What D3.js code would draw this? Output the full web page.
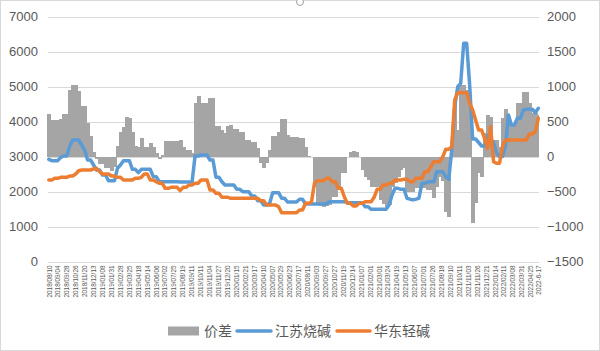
<!DOCTYPE html>
<html><head><meta charset="utf-8">
<script src="https://cdn.jsdelivr.net/npm/d3@7"></script>
<style>
html,body{margin:0;padding:0;background:#fff;}
svg{display:block;}
</style></head>
<body><svg id="c" width="600" height="351"></svg>
<script>
const tickLabels = ["2018/08/10","2018/09/04","2018/09/28","2018/10/26","2018/11/20","2018/12/13","2019/01/08","2019/01/31","2019/02/28","2019/03/25","2019/04/18","2019/05/14","2019/06/06","2019/07/02","2019/07/25","2019/08/19","2019/09/11","2019/10/11","2019/11/04","2019/11/27","2019/12/20","2020/01/15","2020/02/21","2020/03/17","2020/04/10","2020/05/07","2020/05/29","2020/06/23","2020/07/17","2020/08/11","2020/09/03","2020/09/27","2020/10/27","2020/11/19","2020/12/14","2021/01/07","2021/02/01","2021/03/01","2021/03/24","2021/04/19","2021/05/13","2021/06/07","2021/07/01","2021/07/26","2021/08/18","2021/09/10","2021/10/11","2021/11/03","2021/11/26","2021/12/21","2022/01/14","2022/02/11","2022/03/08","2022/03/31","2022/04/25","2022-6-17"];

// 价差 (right axis)
const spread = [
607,521,521,521,540,607,607,950,1021,1021,
940,721,721,474,293,60,-30,-100,-100,-170,
-170,-200,-150,150,355,426,560,545,355,150,
131,260,131,131,200,131,45,-40,20,221,
221,221,221,221,236,131,93,93,55,760,
864,760,760,760,831,831,436,436,380,340,
436,450,388,388,355,355,236,236,212,212,
117,-97,-160,-97,93,293,293,355,531,531,
307,283,283,283,260,260,140,7,0,-431,
-670,-700,-717,-700,-690,-574,-574,-431,-240,-240,
0,60,83,60,0,-190,-290,-336,-431,-431,
-431,-620,-680,-717,-690,-431,-380,-290,-190,-160,
-500,-500,-500,-450,-450,-450,-450,-479,-479,-593,
-431,-290,-350,-788,-860,140,800,379,1021,1021,
950,760,-945,-669,-240,-290,331,600,570,236,
236,140,545,680,569,430,430,769,769,926,
926,760,620,620,600];

// 江苏烧碱 (left axis)
const jiangsu = [
2920,2880,2880,2880,2977,3014,3014,3300,3471,3471,
3471,3329,3186,2900,2900,2757,2614,2614,2471,2471,
2309,2309,2309,2663,2757,2880,2880,2880,2634,2634,
2537,2634,2634,2634,2634,2423,2423,2280,2280,2280,
2280,2280,2280,2280,2271,2271,2271,2271,2271,3014,
3014,3043,3043,3043,2900,2900,2405,2405,2280,2186,
2186,2186,2186,2063,2063,1994,1994,1994,1871,1871,
1737,1737,1614,1614,1663,1966,1966,1966,1806,1806,
1700,1700,1700,1700,1777,1777,1643,1643,1643,1643,
1643,1643,1643,1643,1709,1709,1709,1709,1709,1709,
1680,1680,1680,1680,1680,1680,1566,1566,1491,1491,
1491,1491,1491,1491,1614,1900,2091,2091,2063,2063,
1806,1780,1760,1780,1806,2234,2234,2280,2280,2280,
2566,2566,2566,2423,2349,3186,4423,4994,5091,6234,
6234,5043,3500,3500,3400,3300,3300,3600,3500,3400,
3100,3000,3000,3300,4186,3900,3900,4091,4091,4329,
4350,4350,4350,4251,4377];

// 华东轻碱 (left axis)
const huadong = [
2329,2329,2377,2377,2406,2406,2406,2443,2443,2500,
2594,2614,2614,2614,2614,2643,2663,2566,2500,2500,
2500,2443,2443,2406,2406,2329,2329,2329,2329,2377,
2377,2406,2500,2500,2329,2329,2280,2234,2234,2091,
2091,2120,2120,2120,2023,2120,2120,2186,2186,2234,
2234,2329,2329,2329,2043,2043,1949,1949,1834,1834,
1834,1806,1806,1806,1806,1806,1806,1806,1806,1806,
1806,1737,1737,1614,1614,1614,1614,1566,1394,1394,
1394,1394,1394,1394,1471,1471,1663,1663,1700,2234,
2309,2309,2309,2377,2377,2280,2280,2091,2091,1851,
1663,1663,1586,1586,1663,1663,1709,1709,1709,1834,
2063,2063,2186,2186,2234,2234,2329,2329,2329,2350,
2350,2280,2280,2377,2377,2377,2566,2566,2709,2851,
2851,2851,2994,3206,3206,3280,4614,4823,4823,4823,
4823,4520,4329,4043,3757,3757,3520,3234,3851,2851,
2806,2806,3280,3471,3471,3471,3471,3471,3471,3471,
3471,3643,3643,3709,4091];

const leftTicks = [0,1000,2000,3000,4000,5000,6000,7000];
const rightTicks = [-1500,-1000,-500,0,500,1000,1500,2000];

const svg = d3.select("#c");
const W = 600, H = 351;
const plot = {left: 48, right: 539, top: 16.5, bottom: 261.5};
const N = jiangsu.length;
const x = d3.scaleLinear().domain([0, N - 1]).range([48.8, 538.3]);
const yL = d3.scaleLinear().domain([0, 7000]).range([plot.bottom, plot.top]);
const yR = d3.scaleLinear().domain([-1500, 2000]).range([plot.bottom, plot.top]);
const step = x(1) - x(0);
const labelPos = i => i < tickLabels.length - 1 ? i * 17 * (N - 1) / 933 : N - 1;

// frame
svg.append("rect").attr("x",0.5).attr("y",0.5).attr("width",W-1).attr("height",H-1)
  .attr("fill","#fff").attr("stroke","#d9d9d9");
svg.append("circle").attr("cx",300).attr("cy",2).attr("r",3.5).attr("fill","#fff").attr("stroke","#a0a0a0");

// gridlines
svg.append("g").selectAll("line").data(leftTicks).join("line")
  .attr("x1", plot.left).attr("x2", plot.right)
  .attr("y1", d => Math.round(yL(d)) + 0.5).attr("y2", d => Math.round(yL(d)) + 0.5)
  .attr("stroke", "#d9d9d9").attr("stroke-width", 1);

// bars
svg.append("g").attr("shape-rendering","crispEdges").selectAll("rect").data(spread).join("rect")
  .attr("x", (d,i) => x(i) - step/2)
  .attr("width", (d,i) => i === N - 1 ? step/2 + 0.7 : step + 1)
  .attr("y", d => Math.min(yR(d), yR(0)))
  .attr("height", d => Math.abs(yR(d) - yR(0)))
  .attr("fill", "#a5a5a5");

// lines
const lineL = d3.line().x((d,i) => x(i)).y(d => yL(d));
svg.append("path").datum(jiangsu).attr("d", lineL)
  .attr("fill","none").attr("stroke","#5b9bd5").attr("stroke-width",3.5)
  .attr("stroke-linejoin","round").attr("stroke-linecap","round");
svg.append("path").datum(huadong).attr("d", lineL)
  .attr("fill","none").attr("stroke","#ed7d31").attr("stroke-width",3.5)
  .attr("stroke-linejoin","round").attr("stroke-linecap","round");

// axes
const axisFont = "'Liberation Sans', Arial, sans-serif";
const fmt = d3.format("d");
const gL = svg.append("g").attr("transform", `translate(${plot.left - 10},0)`)
  .call(d3.axisLeft(yL).tickValues(leftTicks).tickFormat(fmt).tickSize(0).tickPadding(0));
gL.select(".domain").remove();
gL.selectAll("text").attr("font-family", axisFont).attr("font-size", 13).attr("fill", "#595959");

const gR = svg.append("g").attr("transform", `translate(${plot.right + 8},0)`)
  .call(d3.axisRight(yR).tickValues(rightTicks).tickFormat(fmt).tickSize(0).tickPadding(0));
gR.select(".domain").remove();
gR.selectAll("text").attr("font-family", axisFont).attr("font-size", 13).attr("fill", "#595959");

const gX = svg.append("g").attr("transform", `translate(0,${plot.bottom})`)
  .call(d3.axisBottom(x).tickValues(tickLabels.map((d,i) => labelPos(i)))
    .tickFormat((d,i) => tickLabels[i]).tickSize(0).tickPadding(0));
gX.select(".domain").remove();
gX.selectAll("text")
  .attr("font-family", axisFont).attr("font-size", 6.4).attr("fill", "#595959")
  .attr("text-anchor", "end")
  .attr("transform", "translate(0,4) rotate(-90)")
  .attr("x", 0).attr("y", 0).attr("dy", "0.35em");

// legend
const lg = svg.append("g").attr("font-family", "'Noto Sans CJK SC', sans-serif")
  .attr("font-size", 14).attr("fill", "#595959");
const ly = 331;
lg.append("rect").attr("x",168).attr("y",ly-4.5).attr("width",31).attr("height",9).attr("fill","#a5a5a5");
lg.append("text").attr("x",204).attr("y",ly).attr("dy","0.35em").text("价差");
lg.append("line").attr("x1",237).attr("x2",271).attr("y1",ly).attr("y2",ly)
  .attr("stroke","#5b9bd5").attr("stroke-width",3.5).attr("stroke-linecap","round");
lg.append("text").attr("x",275).attr("y",ly).attr("dy","0.35em").text("江苏烧碱");
lg.append("line").attr("x1",337).attr("x2",370).attr("y1",ly).attr("y2",ly)
  .attr("stroke","#ed7d31").attr("stroke-width",3.5).attr("stroke-linecap","round");
lg.append("text").attr("x",374).attr("y",ly).attr("dy","0.35em").text("华东轻碱");
</script></body></html>
